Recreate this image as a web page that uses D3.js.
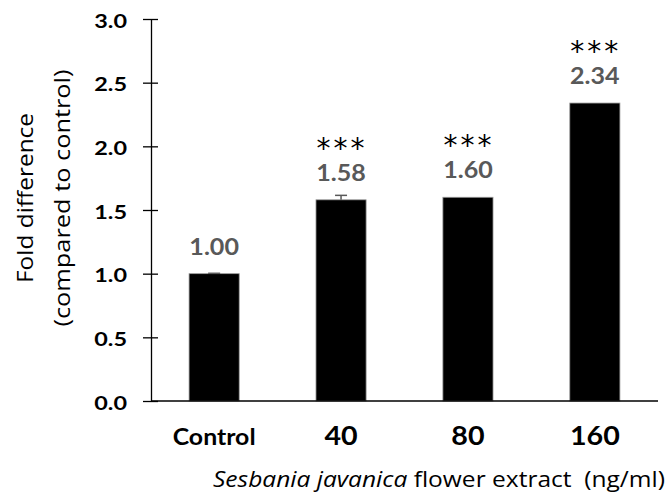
<!DOCTYPE html>
<html><head><meta charset="utf-8">
<script src="https://cdn.jsdelivr.net/npm/d3@7"></script>
<style>body{margin:0;background:#fff}svg{display:block}</style>
</head><body>
<script>
const categories = ["Control", "40", "80", "160"];
const values = [1.00, 1.58, 1.60, 2.34];
const errors = [0.003, 0.035, 0, 0];
const valueLabels = ["1.00", "1.58", "1.60", "2.34"];
const significance = ["", "***", "***", "***"];
const yTicks = [0, 0.5, 1.0, 1.5, 2.0, 2.5, 3.0];

const W = 670, H = 493;
const svg = d3.select("body").append("svg").attr("width", W).attr("height", H);
const x0 = 151, x1 = 658, yBottom = 401, yTop = 19;
const x = d3.scaleBand().domain(categories).range([x0, x1]).paddingInner(0.605).paddingOuter(0.3);
const y = d3.scaleLinear().domain([0, 3]).range([yBottom, yTop]);
const LATO = "Lato, 'Open Sans', sans-serif";
const OPEN = "'Open Sans', Lato, sans-serif";

function stretch(sel, k) {
  sel.each(function () {
    const n = this.getComputedTextLength();
    d3.select(this).attr("textLength", n * k).attr("lengthAdjust", "spacingAndGlyphs");
  });
}

// bars
svg.selectAll("rect.bar").data(values).enter().append("rect")
  .attr("x", (d, i) => x(categories[i]))
  .attr("y", d => y(d))
  .attr("width", x.bandwidth())
  .attr("height", d => y(0) - y(d))
  .attr("fill", "#000").attr("stroke", "#9a9a9a").attr("stroke-width", 0.8);

// error bars
values.forEach((v, i) => {
  if (errors[i] <= 0) return;
  const cx = x(categories[i]) + x.bandwidth() / 2;
  const g = svg.append("g").attr("stroke", "#595959").attr("stroke-width", 1.5);
  g.append("line").attr("x1", cx).attr("x2", cx).attr("y1", y(v)).attr("y2", y(v + errors[i]));
  g.append("line").attr("x1", cx - 6).attr("x2", cx + 6).attr("y1", y(v + errors[i])).attr("y2", y(v + errors[i]));
});

// y axis
const yAxis = d3.axisLeft(y).tickValues(yTicks).tickFormat(d3.format(".1f")).tickSizeInner(8).tickSizeOuter(0);
const ga = svg.append("g").attr("transform", `translate(${x0},0)`).call(yAxis);
ga.select(".domain").attr("stroke", "#000").attr("stroke-width", 1.3);
ga.selectAll(".tick line").attr("stroke", "#000").attr("stroke-width", 1.3).attr("x2", 7).attr("x1", -8);
const tickText = ga.selectAll(".tick text").attr("font-family", LATO).attr("font-weight", "bold")
  .attr("font-size", 19.5).attr("fill", "#000").attr("x", -24).attr("dy", 8).attr("text-anchor", "end");
stretch(tickText, 1.2);

// x axis line
svg.append("line").attr("x1", x0).attr("x2", x1).attr("y1", yBottom).attr("y2", yBottom)
  .attr("stroke", "#000").attr("stroke-width", 1.5);

// x category labels
const cat = svg.selectAll("text.cat").data(categories).enter().append("text")
  .attr("x", d => x(d) + x.bandwidth() / 2)
  .attr("y", 445)
  .attr("text-anchor", "middle")
  .attr("font-family", LATO).attr("font-weight", "bold")
  .attr("font-size", d => d === "Control" ? 23 : 26.5)
  .attr("fill", "#000")
  .text(d => d);
stretch(cat, 1.08);

// value labels
const vl = svg.selectAll("text.val").data(valueLabels).enter().append("text")
  .attr("x", (d, i) => x(categories[i]) + x.bandwidth() / 2)
  .attr("y", (d, i) => y(values[i]) - 19)
  .attr("text-anchor", "middle")
  .attr("font-family", LATO).attr("font-weight", "bold")
  .attr("font-size", 23).attr("fill", "#595959")
  .text(d => d);
stretch(vl, 1.09);

// significance
svg.selectAll("text.sig").data(significance).enter().append("text")
  .attr("x", (d, i) => x(categories[i]) + x.bandwidth() / 2 + 1)
  .attr("y", (d, i) => y(values[i]) - 42)
  .attr("text-anchor", "middle")
  .attr("font-family", "'DejaVu Sans', sans-serif")
  .attr("font-size", 28).attr("letter-spacing", 3).attr("fill", "#000")
  .text(d => d);

// x axis title
const xt = svg.append("text").attr("x", 213).attr("y", 487).attr("text-anchor", "start")
  .attr("font-family", OPEN).attr("font-size", 21).attr("fill", "#000")
  .attr("textLength", 452).attr("lengthAdjust", "spacingAndGlyphs");
xt.append("tspan").attr("font-style", "italic").text("Sesbania javanica");
xt.append("tspan").text(" flower extract\u00a0\u00a0(ng/ml)");

// y axis title
const yt = svg.append("g").attr("transform", "translate(0,198) rotate(-90)");
yt.append("text").attr("x", 0).attr("y", 33).attr("text-anchor", "middle")
  .attr("font-family", OPEN).attr("font-size", 22).attr("fill", "#000")
  .attr("textLength", 170).attr("lengthAdjust", "spacingAndGlyphs").text("Fold difference");
yt.append("text").attr("x", 0).attr("y", 70).attr("text-anchor", "middle")
  .attr("font-family", OPEN).attr("font-size", 22).attr("fill", "#000")
  .attr("textLength", 257).attr("lengthAdjust", "spacingAndGlyphs").text("(compared to control)");
</script>
</body></html>
